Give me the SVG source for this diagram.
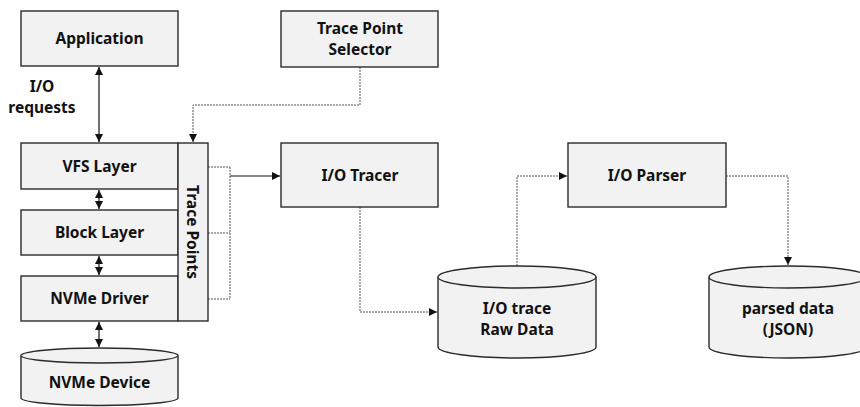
<svg xmlns="http://www.w3.org/2000/svg" width="860" height="407" viewBox="0 0 860 407">
  <style>
    .box { fill: #f2f2f2; stroke: #2b2b2b; stroke-width: 1.4; }
    .lbl { font-family: "Noto Sans", "Open Sans", sans-serif; font-weight: bold; font-size: 15.5px; fill: #111; text-anchor: middle; }
    .solid { fill: none; stroke: #111; stroke-width: 1.2; }
    .dot { fill: none; stroke: #555; stroke-width: 1; stroke-dasharray: 2 1; }
  </style>
  <defs>
    <marker id="ah" viewBox="0 0 10 10" refX="10" refY="5" markerWidth="8" markerHeight="8" markerUnits="userSpaceOnUse" orient="auto-start-reverse">
      <path d="M0,0 L10,5 L0,10 z" fill="#111"/>
    </marker>
  </defs>

  <rect width="860" height="407" fill="#ffffff"/>

  <!-- connectors -->
  <g id="connectors">
    <line class="solid" x1="99" y1="67" x2="99" y2="142" marker-start="url(#ah)" marker-end="url(#ah)"/>
    <line class="solid" x1="99" y1="190" x2="99" y2="209" marker-start="url(#ah)" marker-end="url(#ah)"/>
    <line class="solid" x1="99" y1="256" x2="99" y2="275" marker-start="url(#ah)" marker-end="url(#ah)"/>
    <line class="solid" x1="99" y1="322" x2="99" y2="347" marker-start="url(#ah)" marker-end="url(#ah)"/>
    <path class="dot" d="M360,67 V105 H193 V142" marker-end="url(#ah)"/>
    <path class="dot" d="M208,167 H230 M208,233 H230 M208,299 H230 M230,167 V299"/>
    <line class="solid" x1="230" y1="176" x2="280" y2="176" marker-end="url(#ah)"/>
    <path class="dot" d="M360,207 V312 H437" marker-end="url(#ah)"/>
    <path class="dot" d="M517,266 V176 H567" marker-end="url(#ah)"/>
    <path class="dot" d="M726,176 H788 V265" marker-end="url(#ah)"/>
  </g>

  <g id="application">
    <rect class="box" x="21" y="11" width="157" height="55"/>
    <text class="lbl" x="99.5" y="44">Application</text>
  </g>

  <g id="io-requests-label">
    <text class="lbl" x="42" y="92">I/O</text>
    <text class="lbl" x="42" y="113">requests</text>
  </g>

  <g id="trace-point-selector">
    <rect class="box" x="281" y="11" width="157" height="56"/>
    <text class="lbl" x="360" y="34">Trace Point</text>
    <text class="lbl" x="360" y="55">Selector</text>
  </g>

  <g id="vfs-layer">
    <rect class="box" x="21" y="143" width="157" height="46"/>
    <text class="lbl" x="99.5" y="172">VFS Layer</text>
  </g>

  <g id="block-layer">
    <rect class="box" x="21" y="210" width="157" height="45"/>
    <text class="lbl" x="99.5" y="238">Block Layer</text>
  </g>

  <g id="nvme-driver">
    <rect class="box" x="21" y="276" width="157" height="45"/>
    <text class="lbl" x="99.5" y="304">NVMe Driver</text>
  </g>

  <g id="trace-points">
    <rect class="box" x="178" y="143" width="30" height="178"/>
    <text class="lbl" transform="translate(193,232) rotate(90)" dy="0.36em">Trace Points</text>
  </g>

  <g id="nvme-device">
    <path class="box" d="M21,355.5 A78.5,7.5 0 0 1 178,355.5 V398 A78.5,7.5 0 0 1 21,398 Z"/>
    <path class="box" d="M21,355.5 A78.5,7.5 0 0 0 178,355.5" fill="none"/>
    <text class="lbl" x="99.5" y="388">NVMe Device</text>
  </g>

  <g id="io-tracer">
    <rect class="box" x="281" y="143" width="157" height="64"/>
    <text class="lbl" x="360" y="181">I/O Tracer</text>
  </g>

  <g id="io-parser">
    <rect class="box" x="568" y="143" width="158" height="64"/>
    <text class="lbl" x="647" y="181">I/O Parser</text>
  </g>

  <g id="raw-data">
    <path class="box" d="M438,277 A79,11 0 0 1 596,277 V347 A79,11 0 0 1 438,347 Z"/>
    <path class="box" d="M438,277 A79,11 0 0 0 596,277" fill="none"/>
    <text class="lbl" x="517" y="314">I/O trace</text>
    <text class="lbl" x="517" y="335">Raw Data</text>
  </g>

  <g id="parsed-data">
    <path class="box" d="M709,277 A79,11 0 0 1 867,277 V347 A79,11 0 0 1 709,347 Z"/>
    <path class="box" d="M709,277 A79,11 0 0 0 867,277" fill="none"/>
    <text class="lbl" x="788" y="314">parsed data</text>
    <text class="lbl" x="788" y="335">(JSON)</text>
  </g>
</svg>
